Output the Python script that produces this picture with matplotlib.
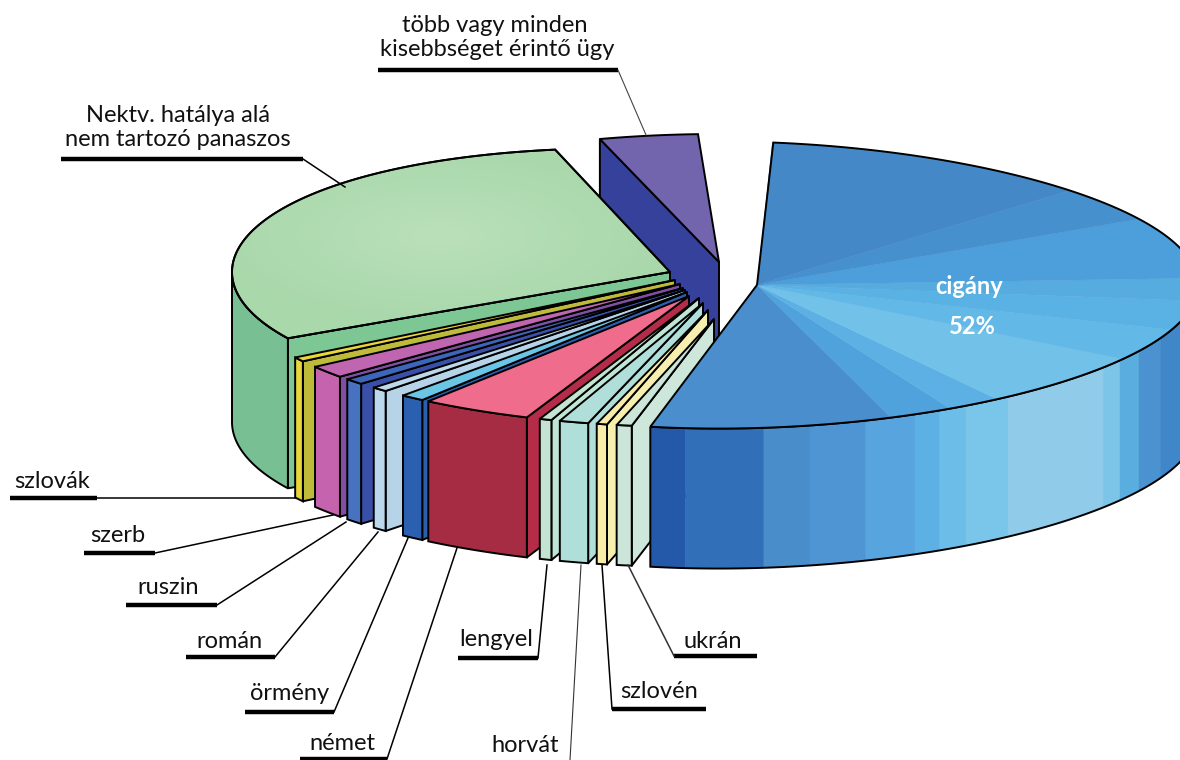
import numpy as np
import matplotlib
matplotlib.use("Agg")
import matplotlib.pyplot as plt
from matplotlib.patches import Polygon

plt.rcParams["font.family"] = ["Lato", "DejaVu Sans"]

# shares (only the 52% is printed on it)
kategoriak = ["több vagy minden kisebbséget érintő ügy", "Nektv. hatálya alá nem tartozó panaszos",
              "szlovák", "szerb", "ruszin", "román", "örmény", "német",
              "lengyel", "horvát", "szlovén", "ukrán", "cigány"]
szazalek = [3.6, 28.2, 0.49, 1.36, 0.68, 0.54, 0.81, 3.74, 0.41, 0.98, 0.35, 0.51, 52]

# layout of the exploded slices, in pixels / degrees on the ellipse
FOK_PER_SZAZALEK = 3.69
kezdo_szog = [92.8, 105.2, 210.7, 215.2, 221.6, 226.3, 231.1, 235.0, 250.5, 253.1, 257.8, 260.3, -104.0]
kozep = [(719, 262), (670, 272)] + [(695, 285)] * 10 + [(757, 285)]
csucs = [(719, 262), (670, 272), (675, 280), (680, 284), (683, 288), (685, 290), (687, 292),
         (689, 296), (699, 298), (703, 303), (708, 310), (714, 319), (757, 285)]
sugar = [(430, 128), (438, 123)] + [(465, 142)] * 10 + [(441, 143)]
melyseg = [140, 150] + [140] * 11
# the drawing gets a little flatter to the right
szukules = [0, 0.00027] + [0] * 10 + [0.0002]

# top, outer side, cut face
szin_teto = ["#7364AE", "#A9D8AB", "#E8D63A", "#C065B0", "#3B66B9", "#BCD8EA", "#6BC5E5", "#F06C8C",
             "#C2E4D0", "#AFDFD8", "#F8EDA8", "#CBE6D8", "#4A8ECE"]
szin_oldal = ["#7364AE", "#78C093", "#E8D63A", "#C563AE", "#4672C0", "#BCD8EC", "#2B5FAF", "#A62C44",
              "#C2E4D0", "#AFDFD8", "#F8EDA8", "#CBE6D8", "#3170B8"]
szin_vagas = ["#35419B", "#7DC795", "#BFBB3A", "#7F4FA0", "#3A50A8", "#B6D3E8", "#2B5FAF", "#B42C48",
              "#BFE5D5", "#AFDFD8", "#F6EFAE", "#CDE7DA", "#3170B8"]

# bands on the big blue slice
kek_teto_hatar = [-104, -72.3, -64, -57, -34, -20, -7, 3, 30, 44.8, 88]
kek_teto_szin = ["#4A8ECE", "#4FA2DC", "#5CB0E3", "#72C1E9", "#62B8E6", "#5AB2E4", "#56ABDF", "#4C9FDA", "#4790CE", "#4488C8"]
kek_oldal_hatar = [-104, -99.3, -89.1, -83.1, -75.7, -69, -65.5, -61.6, -55.3, -38.3, -34.6, -30, -23.9, -12, 0]
kek_oldal_szin = ["#2458A8", "#3170B8", "#4A8DCB", "#5095D3", "#58A4DE", "#5CB0E3", "#6CBDE8", "#7AC6EA",
                  "#90CBEA", "#7CC4E8", "#5AADDF", "#4A93D0", "#3F87C8", "#3A80C2"]

cimkek = ["szlovák", "szerb", "ruszin", "román", "örmény", "német", "lengyel", "szlovén", "ukrán"]
cimke_x = [52, 118, 168, 229, 290, 342, 496, 659, 713]
cimke_y = [481, 536, 587, 641, 694, 744, 639, 692, 641]
vonal_x0 = [10, 84, 126, 186, 245, 300, 458, 612, 674]
vonal_x1 = [97, 155, 217, 275, 334, 387, 538, 706, 757]
vonal_y = [498, 553, 605, 657, 712, 759, 658, 709, 656]
vezeto_x0 = [97, 155, 217, 275, 334, 387, 538, 612, 674]
vezeto_x1 = [296, 333, 346, 378, 408, 457, 547, 602, 628]
vezeto_y1 = [498, 515, 522, 532, 538, 548, 565, 565, 565]


def iv(i, t0, t1, lepes=0.5):
    cx, cy = kozep[i]
    rx, ry = sugar[i]
    t = np.radians(np.linspace(t0, t1, max(int(abs(t1 - t0) / lepes), 2)))
    x = cx + rx * np.cos(t)
    y = cy - ry * np.sin(t) * (1 - szukules[i] * (x - cx))
    return np.column_stack([x, y])


def oldal_sokszog(i, t0, t1):
    felso = iv(i, t0, t1)
    return np.vstack([felso, felso[::-1] + [0, melyseg[i]]])


def szoveg(x, y, s, meret=17, **kw):
    ax.text(x, y, s, ha="center", va="center", fontsize=meret, color=kw.pop("color", "#111111"), zorder=60, **kw)


fig = plt.figure(figsize=(11.8, 7.6), dpi=100)
ax = fig.add_axes([0, 0, 1, 1])
LW = 1.4

for i in range(len(szazalek)):
    cs = np.array(csucs[i], dtype=float)
    m = melyseg[i]
    t0 = kezdo_szog[i]
    t1 = t0 + szazalek[i] * FOK_PER_SZAZALEK
    teto = np.vstack([cs, iv(i, t0, t1)])

    # cut face, the big blue one does not show it
    if i == 0:
        veg = iv(i, t1, t1 + 0.1)[0]
    else:
        veg = iv(i, t1, t1 + 0.1)[0]
    if i != 12:
        vagas = np.array([veg, cs, cs + [0, m], veg + [0, m]])
        ax.add_patch(Polygon(vagas, closed=True, fc=szin_vagas[i], ec="black", lw=LW, joinstyle="round", zorder=i * 3 + 1))

    # outer wall, only the part that faces the viewer
    if i == 12:
        for k in range(len(kek_oldal_szin)):
            p = oldal_sokszog(i, kek_oldal_hatar[k], kek_oldal_hatar[k + 1])
            ax.add_patch(Polygon(p, closed=True, fc=kek_oldal_szin[k], ec=kek_oldal_szin[k], lw=0.3, zorder=i * 3 + 2))
        ax.add_patch(Polygon(oldal_sokszog(i, -104, 0), closed=True, fill=False, ec="black", lw=LW, zorder=i * 3 + 2))
    elif t1 > 180:
        p = oldal_sokszog(i, max(t0, 180), t1)
        ax.add_patch(Polygon(p, closed=True, fc=szin_oldal[i], ec="black", lw=LW, zorder=i * 3 + 2))

    # top face
    if i == 12:
        for k in range(len(kek_teto_szin)):
            p = np.vstack([cs, iv(i, kek_teto_hatar[k], kek_teto_hatar[k + 1])])
            ax.add_patch(Polygon(p, closed=True, fc=kek_teto_szin[k], ec=kek_teto_szin[k], lw=0.3, zorder=i * 3 + 3))
        ax.add_patch(Polygon(teto, closed=True, fill=False, ec="black", lw=LW, zorder=i * 3 + 3))
    else:
        folt = Polygon(teto, closed=True, fc=szin_teto[i], ec="black", lw=LW, zorder=i * 3 + 3)
        ax.add_patch(folt)
        if i == 1:
            # soft lighter middle on the green top
            yy, xx = np.mgrid[140:345, 225:680]
            d = np.hypot((xx - 440) / 230, (yy - 235) / 90)
            kep = np.dstack([np.full(xx.shape, 0.73), np.full(xx.shape, 0.88), np.full(xx.shape, 0.73), np.clip(1 - d, 0, 1)])
            im = ax.imshow(kep, extent=(225, 680, 345, 140), zorder=i * 3 + 3.2, interpolation="bilinear")
            im.set_clip_path(folt)
            ax.add_patch(Polygon(teto, closed=True, fill=False, ec="black", lw=LW, zorder=i * 3 + 3.3))

# labels
for i in range(len(cimkek)):
    szoveg(cimke_x[i], cimke_y[i], cimkek[i])
    ax.plot([vonal_x0[i], vonal_x1[i]], [vonal_y[i], vonal_y[i]], color="black", lw=3.2, solid_capstyle="butt", zorder=60)
    szin = "#333333" if cimkek[i] == "ukrán" else "black"
    ax.plot([vezeto_x0[i], vezeto_x1[i]], [vonal_y[i], vezeto_y1[i]], color=szin, lw=1.1, zorder=60)

szoveg(525, 746, "horvát")
ax.plot([570, 581], [760, 565], color="#333333", lw=0.8, zorder=60)

szoveg(495, 25, "több vagy minden")
szoveg(497, 50, "kisebbséget érintő ügy")
ax.plot([378, 618], [70, 70], color="black", lw=3.2, solid_capstyle="butt", zorder=60)
ax.plot([618, 646], [70, 135], color="#444444", lw=0.8, zorder=60)

szoveg(178, 116, "Nektv. hatálya alá")
szoveg(178, 140, "nem tartozó panaszos")
ax.plot([61, 303], [159, 159], color="black", lw=3.2, solid_capstyle="butt", zorder=60)
ax.plot([303, 345], [159, 187], color="black", lw=1.1, zorder=60)

szoveg(969, 287, "cigány", meret=17, fontweight="bold", color="white")
szoveg(972, 327, "52%", meret=17, fontweight="bold", color="white")

ax.set_xlim(0, 1180)
ax.set_ylim(760, 0)
ax.set_aspect("auto")
ax.axis("off")
fig.savefig("out.png", dpi=100, facecolor="white")
